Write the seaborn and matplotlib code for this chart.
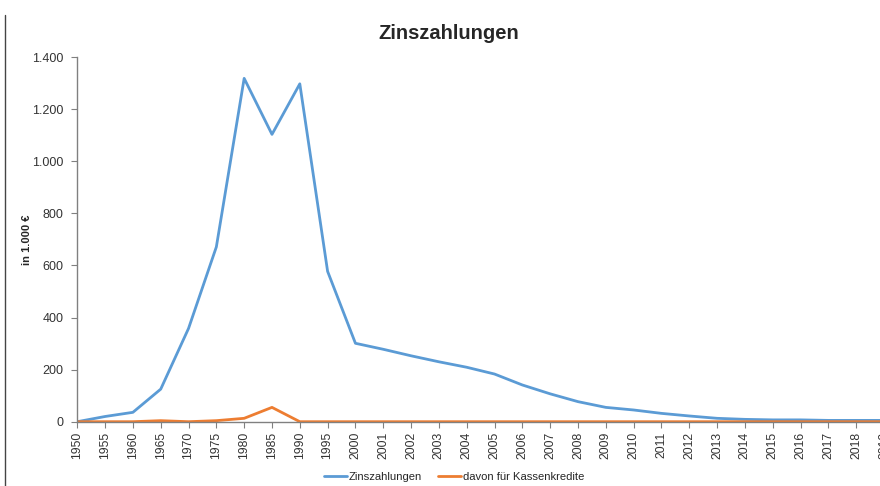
import pandas as pd
import seaborn as sns
import matplotlib.pyplot as plt
from matplotlib.lines import Line2D
from matplotlib.ticker import FuncFormatter

jahre = ['1950', '1955', '1960', '1965', '1970', '1975', '1980', '1985', '1990', '1995',
         '2000', '2001', '2002', '2003', '2004', '2005', '2006', '2007', '2008', '2009',
         '2010', '2011', '2012', '2013', '2014', '2015', '2016', '2017', '2018', '2019']
zinszahlungen = [0, 20, 36, 125, 358, 671, 1318, 1103, 1297, 577,
                 301, 278, 253, 230, 209, 183, 141, 107, 77, 55,
                 45, 32, 22, 13, 9, 7, 7, 5, 5, 5]
kassenkredite = [0, 0, 0, 4, 0, 4, 13, 55, 0, 0,
                 0, 0, 0, 0, 0, 0, 0, 0, 0, 0,
                 0, 0, 0, 0, 0, 0, 0, 0, 0, 0]
serien = ['Zinszahlungen', 'davon für Kassenkredite']
farben = ['#5B9BD5', '#ED7D31']

df = pd.DataFrame({
    'Jahr': jahre * 2,
    'Wert': zinszahlungen + kassenkredite,
    'Serie': [serien[0]] * len(jahre) + [serien[1]] * len(jahre),
})

sns.set_style('white')
plt.rcParams['font.family'] = ['Liberation Sans', 'DejaVu Sans']

fig = plt.figure(figsize=(8.8, 4.86), dpi=100)
ax = fig.add_axes([0.0878, 0.1323, 0.9167, 0.7504])

sns.lineplot(data=df, x='Jahr', y='Wert', hue='Serie', hue_order=serien,
             palette=farben, linewidth=2.0, ax=ax, legend=False)

ax.set_ylim(0, 1400)
ax.set_xlim(0, len(jahre) - 1)
ax.set_yticks(range(0, 1401, 200))
ax.yaxis.set_major_formatter(FuncFormatter(lambda v, p: f'{v:,.0f}'.replace(',', '.')))
ax.tick_params(axis='y', labelsize=9, length=4, color='#808080', direction='out', left=True, pad=6, labelcolor='#333333')
ax.tick_params(axis='x', labelsize=8.8, length=4, color='#808080', direction='out', bottom=True, rotation=90, pad=3, labelcolor='#333333')
for s in ['top', 'right']:
    ax.spines[s].set_visible(False)
for s in ['left', 'bottom']:
    ax.spines[s].set_color('#808080')
    ax.spines[s].set_linewidth(1.0)

ax.set_xlabel('')
ax.set_ylabel('in 1.000 €', fontsize=8, fontweight='bold', labelpad=16)
ax.yaxis.set_label_coords(-0.056, 0.5)

fig.text(0.51, 0.932, 'Zinszahlungen', ha='center', va='center', fontsize=14.5, fontweight='bold')

handles = [Line2D([], [], color=c, linewidth=2.0) for c in farben]
fig.legend(handles, serien, loc='center', bbox_to_anchor=(0.516, 0.018), ncol=2, frameon=False,
           fontsize=8.1, handlelength=2.0, handletextpad=0.15, columnspacing=1.5)

# Rahmenlinie links
fig.add_artist(Line2D([5 / 880, 5 / 880], [0, 1 - 15 / 486], color='#444444', linewidth=1.0))

fig.savefig('out.png', dpi=100)
